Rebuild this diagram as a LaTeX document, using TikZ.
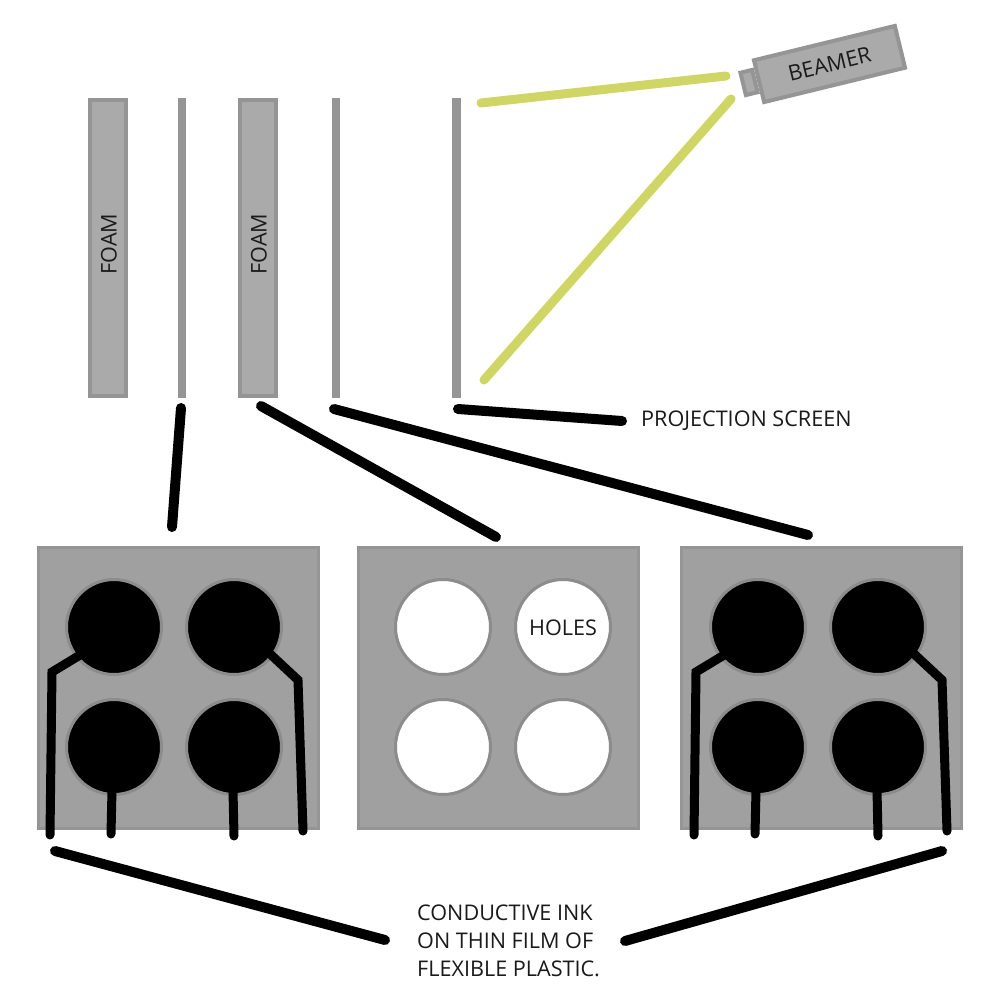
\documentclass[tikz,border=0pt]{standalone}
\usepackage{fontspec}
\setmainfont{Open Sans}
\definecolor{edgegray}{HTML}{959595}
\definecolor{foamgray}{HTML}{AAAAAA}
\definecolor{panelgray}{HTML}{A0A0A0}
\definecolor{ringgray}{HTML}{8C8C8C}
\definecolor{beam}{HTML}{D0D665}
\definecolor{inktext}{HTML}{1A1A1A}
\tikzset{
  foam/.style={draw=edgegray,fill=foamgray,line width=4pt,minimum width=36pt,minimum height=296pt,inner sep=0pt,outer sep=0pt},
  film/.style={fill=edgegray,minimum height=300pt,inner sep=0pt,outer sep=0pt},
  panel/.style={draw=edgegray,fill=panelgray,line width=3pt,minimum width=280pt,minimum height=281pt,inner sep=0pt,outer sep=0pt},
  inkdot/.style={circle,draw=ringgray,fill=black,line width=3pt,minimum size=95pt,inner sep=0pt,outer sep=0pt},
  hole/.style={circle,draw=ringgray,fill=white,line width=3pt,minimum size=95pt,inner sep=0pt,outer sep=0pt},
  leader/.style={line width=10pt,line cap=round,line join=round,black},
  wire/.style={line width=9pt,line cap=round,line join=miter,black},
  ray/.style={line width=9pt,line cap=round,beam},
  label/.style={font=\fontsize{21.6}{28}\selectfont,text=inktext,inner sep=0pt},
  bodybox/.style={draw=edgegray,fill=foamgray,line width=4pt,inner sep=0pt,outer sep=0pt}
}
\begin{document}
\begin{tikzpicture}[x=1pt,y=-1pt]
\useasboundingbox (0,0) rectangle (1000,1000);
% layers
\node[foam] (foamA) at (108,248) {};
\node[film,minimum width=8pt] (filmA) at (182,248) {};
\node[foam] (foamB) at (258,248) {};
\node[film,minimum width=8pt] (filmB) at (336,248) {};
\node[film,minimum width=9pt] (screen) at (456.5,248) {};
\node[label,rotate=90] (foamtextA) at (109,244) {FOAM};
\node[label,rotate=90] (foamtextB) at (259,244) {FOAM};
% beamer
\node[bodybox,rotate=13.7,minimum width=12pt,minimum height=23pt] (lens) at (749,82.5) {};
\node[bodybox,rotate=13.7,minimum width=145pt,minimum height=43pt,label,font=\fontsize{21.6}{24}\selectfont] (beamer) at (829.5,64) {BEAMER};
% rays
\coordinate (rayA) at (481,103);
\coordinate (rayB) at (726,76);
\coordinate (rayC) at (484,380);
\coordinate (rayD) at (731,99);
\draw[ray] (rayA) -- (rayB);
\draw[ray] (rayC) -- (rayD);
% panels
\node[panel] (panelA) at (178.5,688) {};
\node[panel] (panelB) at (498.5,688) {};
\node[panel] (panelC) at (821.5,688) {};
\foreach \n/\cx in {A/114,C/758}{
  \node[inkdot] (dot\n1) at (\cx,627) {};
  \node[inkdot] (dot\n2) at (\cx+120,627) {};
  \node[inkdot] (dot\n3) at (\cx,747) {};
  \node[inkdot] (dot\n4) at (\cx+120,747) {};
}
\node[hole] (holeB1) at (443,627) {};
\node[hole] (holeB2) at (563,627) {};
\node[hole] (holeB3) at (443,747) {};
\node[hole] (holeB4) at (563,747) {};
\node[label] (holestext) at (563,628) {HOLES};
% wires
\foreach \n/\ox in {A/0,C/644}{
  \coordinate (w\n a) at (50+\ox,835);
  \coordinate (w\n b) at (52+\ox,672);
  \coordinate (w\n c) at (85+\ox,652);
  \coordinate (w\n d) at (111+\ox,834);
  \coordinate (w\n e) at (112+\ox,790);
  \coordinate (w\n f) at (234+\ox,836);
  \coordinate (w\n g) at (233+\ox,790);
  \coordinate (w\n h) at (303+\ox,831);
  \coordinate (w\n i) at (298+\ox,680);
  \coordinate (w\n j) at (268+\ox,652);
  \draw[wire] (w\n a) -- (w\n b) -- (w\n c);
  \draw[wire] (w\n d) -- (w\n e);
  \draw[wire] (w\n f) -- (w\n g);
  \draw[wire] (w\n h) -- (w\n i) -- (w\n j);
}
% labels
\node[label,anchor=west] (screentext) at (641,421) {PROJECTION SCREEN};
\node[label,anchor=north west,align=left] (inktext) at (417,905) {CONDUCTIVE INK\\ON THIN FILM OF\\FLEXIBLE PLASTIC.};
% leaders
\coordinate (lA) at (181,408); \coordinate (lAe) at (172,527);
\coordinate (lB) at (261,406); \coordinate (lBe) at (496,537);
\coordinate (lC) at (334,409); \coordinate (lCe) at (808,535);
\coordinate (lD) at (458,409); \coordinate (lDe) at (622,421);
\coordinate (lE) at (55,851);  \coordinate (lEe) at (385,940);
\coordinate (lF) at (625,941); \coordinate (lFe) at (942,851);
\draw[leader] (lA) -- (lAe);
\draw[leader] (lB) -- (lBe);
\draw[leader] (lC) -- (lCe);
\draw[leader] (lD) -- (lDe);
\draw[leader] (lE) -- (lEe);
\draw[leader] (lF) -- (lFe);
\end{tikzpicture}
\end{document}
